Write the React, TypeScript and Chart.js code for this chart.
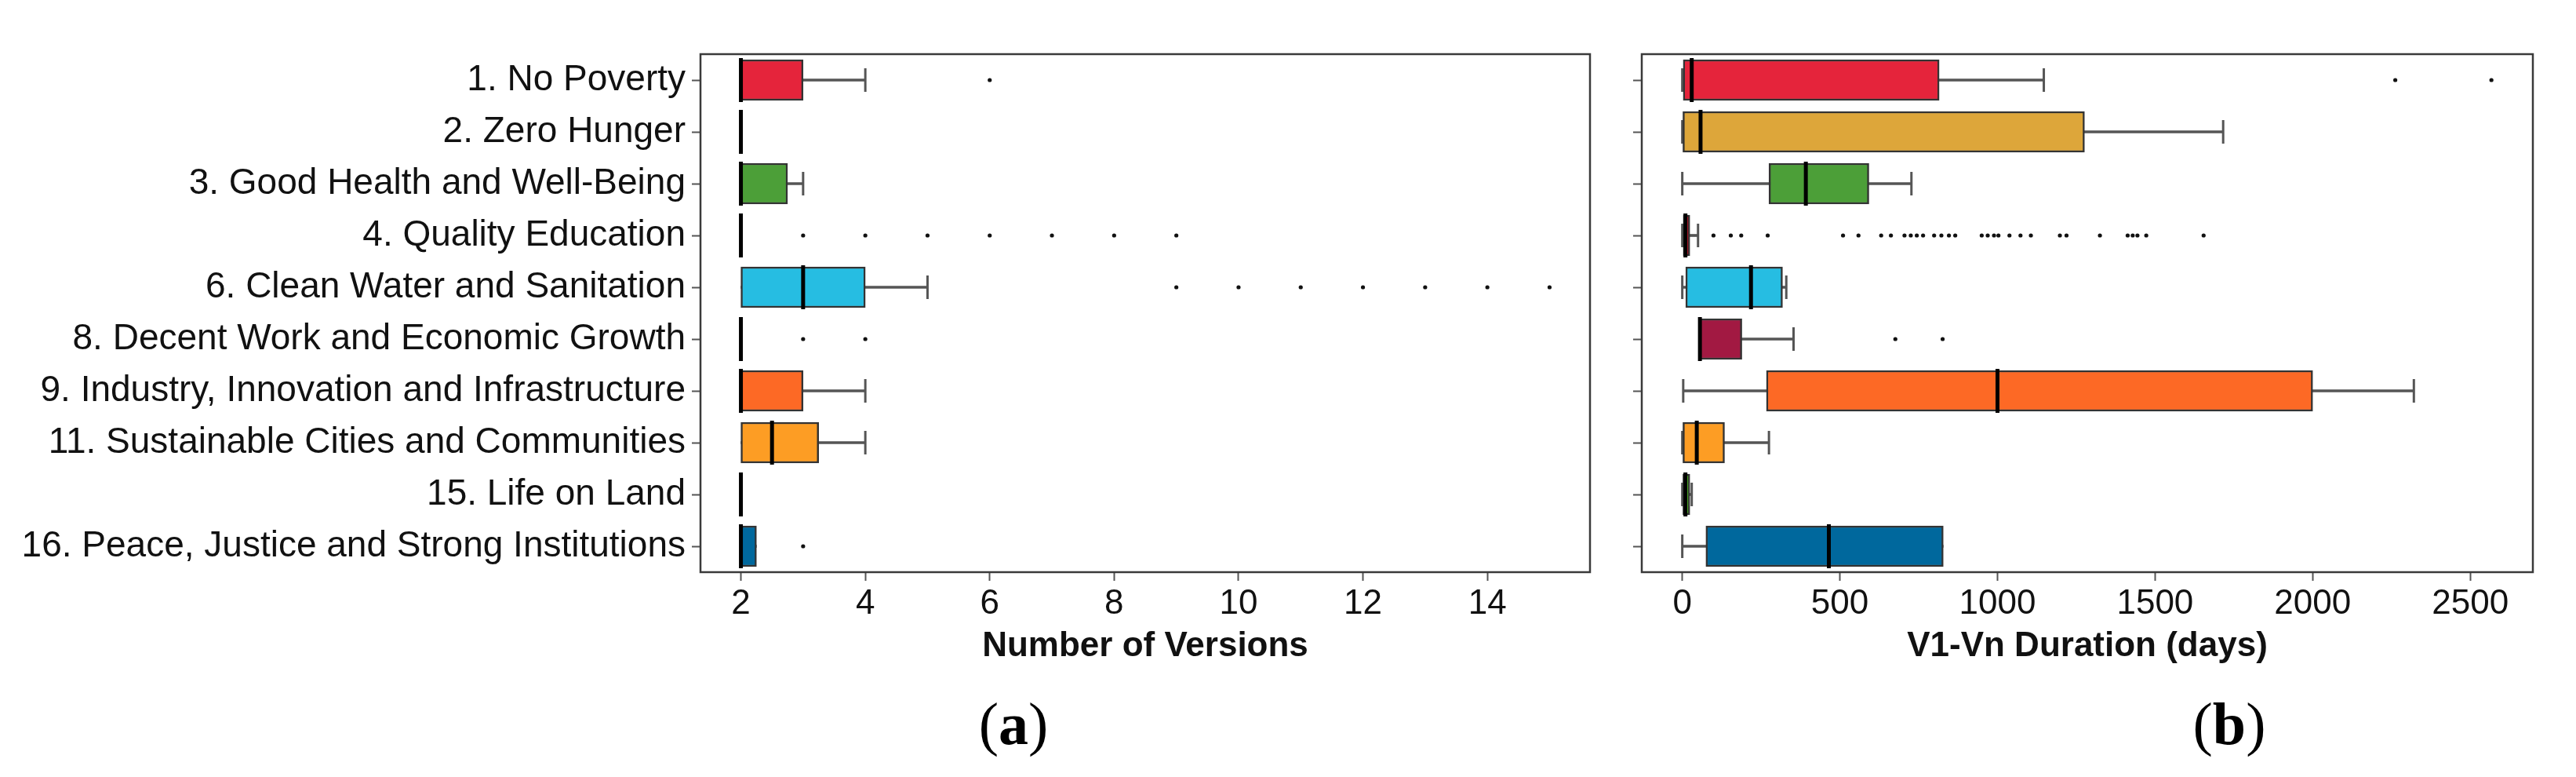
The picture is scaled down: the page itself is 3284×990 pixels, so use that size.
import React, { useEffect, useRef } from "react";
import { Chart, registerables } from "chart.js";

Chart.register(...registerables);

// ---------- data ----------
const categories = [
  "1. No Poverty",
  "2. Zero Hunger",
  "3. Good Health and Well-Being",
  "4. Quality Education",
  "6. Clean Water and Sanitation",
  "8. Decent Work and Economic Growth",
  "9. Industry, Innovation and Infrastructure",
  "11. Sustainable Cities and Communities",
  "15. Life on Land",
  "16. Peace, Justice and Strong Institutions",
];
const sdgColors = [
  "#E5243B", "#DDA63A", "#4C9F38", "#C5192D", "#26BDE2",
  "#A21942", "#FD6925", "#FD9D24", "#56C02B", "#00689D",
];

// (a) Number of Versions
const versionsWhiskerLow = [2, 2, 2, 2, 2, 2, 2, 2, 2, 2];
const versionsQ1 = [2, 2, 2, 2, 2, 2, 2, 2, 2, 2];
const versionsMedian = [2, 2, 2, 2, 3, 2, 2, 2.5, 2, 2];
const versionsQ3 = [3, 2, 2.75, 2, 4, 2, 3, 3.25, 2, 2.25];
const versionsWhiskerHigh = [4, 2, 3, 2, 5, 2, 4, 4, 2, 2.25];
const versionsOutliers = [
  [6],
  [],
  [],
  [3, 4, 5, 6, 7, 8, 9],
  [9, 10, 11, 12, 13, 14, 15],
  [3, 4],
  [],
  [],
  [],
  [3],
];
const versionsTicks = [2, 4, 6, 8, 10, 12, 14];

// (b) V1-Vn Duration (days)
const durationWhiskerLow = [0, 0, 0, 0, 0, 52, 3, 0, 0, 0];
const durationQ1 = [3, 2, 275, 3, 11, 52, 267, 2, 2, 75];
const durationMedian = [30, 58, 392, 10, 218, 56, 1000, 46, 10, 465];
const durationQ3 = [815, 1276, 592, 24, 318, 189, 2000, 134, 24, 828];
const durationWhiskerHigh = [1147, 1716, 727, 50, 330, 353, 2321, 275, 30, 828];
const durationOutliers = [
  [2262, 2567],
  [],
  [],
  [99, 154, 187, 271, 510, 559, 631, 662, 705, 725, 744, 764, 799, 822, 846, 866,
    950, 969, 989, 1003, 1038, 1073, 1106, 1198, 1219, 1325, 1413, 1429, 1444, 1472, 1654],
  [],
  [676, 826],
  [],
  [],
  [],
  [],
];
const durationTicks = [0, 500, 1000, 1500, 2000, 2500];

// ---------- helpers ----------
const SANS = "'Liberation Sans', Arial, Helvetica, sans-serif";
const TEXT = "#111111";

function buildDatasets(
  wlo: number[], q1: number[], med: number[], q3: number[], whi: number[], out: number[][]
): any[] {
  const capPoints: any[] = [];
  categories.forEach((c, i) => {
    if (wlo[i] < q1[i]) capPoints.push({ x: wlo[i], y: c });
    if (whi[i] > q3[i]) capPoints.push({ x: whi[i], y: c });
  });
  const outPoints: any[] = [];
  categories.forEach((c, i) => out[i].forEach((v) => outPoints.push({ x: v, y: c })));
  return [
    {
      type: "bar",
      label: "whisker",
      data: categories.map((_, i) => (whi[i] > wlo[i] ? [wlo[i], whi[i]] : null)),
      backgroundColor: "#555555",
      borderWidth: 0,
      barThickness: 3,
      grouped: false,
      order: 6,
    },
    {
      type: "scatter",
      label: "caps",
      data: capPoints,
      pointStyle: "line",
      rotation: 90,
      radius: 15,
      borderWidth: 3,
      borderColor: "#555555",
      order: 5,
    },
    {
      type: "bar",
      label: "box",
      data: categories.map((_, i) => (q3[i] > q1[i] ? [q1[i], q3[i]] : null)),
      backgroundColor: sdgColors,
      borderColor: "#333333",
      borderWidth: 2.5,
      borderSkipped: false,
      barThickness: 52,
      grouped: false,
      order: 4,
    },
    {
      type: "scatter",
      label: "median",
      data: categories.map((c, i) => ({ x: med[i], y: c })),
      pointStyle: "line",
      rotation: 90,
      radius: 28,
      borderWidth: 5,
      borderColor: "#000000",
      order: 3,
    },
    {
      type: "scatter",
      label: "outliers",
      data: outPoints,
      pointStyle: "circle",
      radius: 2.6,
      backgroundColor: "#111111",
      borderWidth: 0,
      order: 2,
    },
  ];
}

const framePlugin = {
  id: "frame",
  afterDraw(chart: any) {
    const { ctx, chartArea } = chart;
    ctx.save();
    ctx.strokeStyle = "#3a3a3a";
    ctx.lineWidth = 2.5;
    ctx.strokeRect(chartArea.left, chartArea.top, chartArea.right - chartArea.left, chartArea.bottom - chartArea.top);
    ctx.restore();
  },
};

function makeConfig(opts: {
  datasets: any[]; min: number; max: number; ticks: number[]; title: string;
  yWidth: number; showLabels: boolean; padRight: number;
}): any {
  return {
    type: "bar",
    data: { labels: categories, datasets: opts.datasets },
    options: {
      indexAxis: "y",
      animation: false,
      responsive: false,
      events: [],
      layout: { padding: { top: 69, bottom: 140, left: 0, right: opts.padRight } },
      plugins: { legend: { display: false }, tooltip: { enabled: false } },
      scales: {
        x: {
          type: "linear",
          min: opts.min,
          max: opts.max,
          afterBuildTicks: (s: any) => {
            s.ticks = opts.ticks.map((v) => ({ value: v }));
          },
          ticks: {
            font: { family: SANS, size: 44 },
            color: TEXT,
            padding: 3,
            maxRotation: 0,
            autoSkip: false,
            callback: (v: any) => String(v),
          },
          grid: {
            display: true,
            drawOnChartArea: false,
            drawTicks: true,
            tickLength: 11,
            tickWidth: 2,
            tickColor: "#555555",
          },
          border: { display: false },
          title: {
            display: true,
            text: opts.title,
            font: { family: SANS, size: 44, weight: "bold" },
            color: TEXT,
            padding: { top: 0, bottom: 0 },
          },
          afterFit: (s: any) => {
            s.height = 121;
          },
        },
        y: {
          type: "category",
          offset: true,
          grid: {
            display: true,
            offset: false,
            drawOnChartArea: false,
            drawTicks: true,
            tickLength: 11,
            tickWidth: 2,
            tickColor: "#555555",
          },
          border: { display: false },
          ticks: {
            font: { family: SANS, size: 46 },
            color: TEXT,
            padding: 8,
            autoSkip: false,
            callback: function (this: any, v: any) {
              return opts.showLabels ? this.getLabelForValue(v) : "";
            },
          },
          afterFit: (s: any) => {
            s.width = opts.yWidth;
          },
        },
      },
    },
    plugins: [framePlugin],
  };
}

function BoxChart(props: { config: any; left: number; width: number }) {
  const ref = useRef<HTMLCanvasElement | null>(null);
  useEffect(() => {
    if (!ref.current) return;
    const chart = new Chart(ref.current, props.config);
    return () => chart.destroy();
  }, []);
  return (
    <canvas
      ref={ref}
      width={props.width}
      height={990}
      style={{ position: "absolute", left: props.left, top: 0, width: props.width, height: 990 }}
    />
  );
}

const captionStyle: React.CSSProperties = {
  position: "absolute",
  top: 884,
  width: 300,
  textAlign: "center",
  fontFamily: "'Liberation Serif', 'Times New Roman', serif",
  fontSize: 76,
  lineHeight: 1,
  color: "#000",
};

export default function App() {
  const configA = makeConfig({
    datasets: buildDatasets(versionsWhiskerLow, versionsQ1, versionsMedian, versionsQ3, versionsWhiskerHigh, versionsOutliers),
    min: 1.35,
    max: 15.65,
    ticks: versionsTicks,
    title: "Number of Versions",
    yWidth: 893,
    showLabels: true,
    padRight: 30,
  });
  const configB = makeConfig({
    datasets: buildDatasets(durationWhiskerLow, durationQ1, durationMedian, durationQ3, durationWhiskerHigh, durationOutliers),
    min: -128.5,
    max: 2698.5,
    ticks: durationTicks,
    title: "V1-Vn Duration (days)",
    yWidth: 33,
    showLabels: false,
    padRight: 55,
  });
  return (
    <div style={{ position: "absolute", left: 0, top: 0, width: 3284, height: 990, background: "#fff", overflow: "hidden" }}>
      <BoxChart config={configA} left={0} width={2060} />
      <BoxChart config={configB} left={2060} width={1224} />
      <div style={{ ...captionStyle, left: 1292 - 150 }}>
        (<b>a</b>)
      </div>
      <div style={{ ...captionStyle, left: 2842 - 150 }}>
        (<b>b</b>)
      </div>
    </div>
  );
}
